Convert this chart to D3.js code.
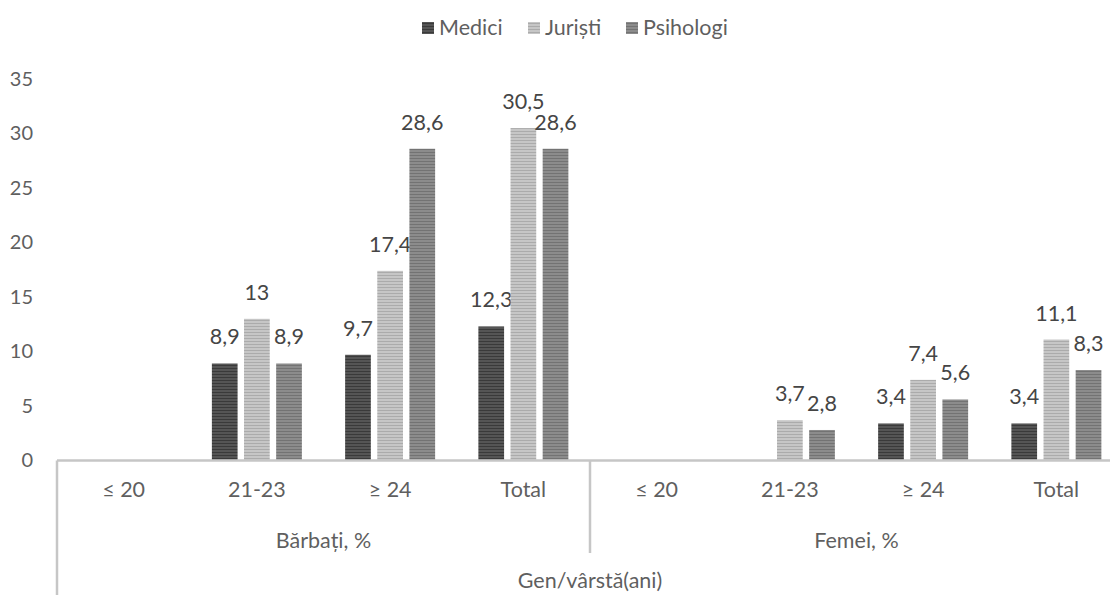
<!DOCTYPE html>
<html>
<head>
<meta charset="utf-8">
<script src="https://cdn.jsdelivr.net/npm/d3@7"></script>
<style>
  body { margin: 0; background: #fff; }
  svg { display: block; font-family: Lato, "Open Sans", sans-serif; }
</style>
</head>
<body>
<svg id="chart" width="1110" height="595"></svg>
<script>
// data
var categories = ["≤ 20", "21-23", "≥ 24", "Total", "≤ 20", "21-23", "≥ 24", "Total"];
var groups = ["Bărbați, %", "Femei, %"];
var seriesNames = ["Medici", "Juriști", "Psihologi"];
var medici = [null, 8.9, 9.7, 12.3, null, null, 3.4, 3.4];
var juristi = [null, 13, 17.4, 30.5, null, 3.7, 7.4, 11.1];
var psihologi = [null, 8.9, 28.6, 28.6, null, 2.8, 5.6, 8.3];
var yTicks = [0, 5, 10, 15, 20, 25, 30, 35];
var axisTitle = "Gen/vârstă(ani)";

var series = [medici, juristi, psihologi];
var fills = ["#555", "#c6c6c6", "#8c8c8c"];
var stripes = ["#3a3a3a", "#ababab", "#737373"];
var textColor = "#5f5f5f";
var lineColor = "#c6c6c6";

var svg = d3.select("#chart");

// striped fills
var defs = svg.append("defs");
fills.forEach(function (f, i) {
  var p = defs.append("pattern")
      .attr("id", "pat" + i)
      .attr("patternUnits", "userSpaceOnUse")
      .attr("width", 8)
      .attr("height", 3);
  p.append("rect").attr("width", 8).attr("height", 3).attr("fill", f);
  p.append("rect").attr("y", 2).attr("width", 8).attr("height", 1).attr("fill", stripes[i]);
});

var idx = d3.range(categories.length);
var x = d3.scaleBand().domain(idx).range([57, 1123]).paddingInner(0).paddingOuter(0);
var xs = d3.scaleBand().domain([0, 1, 2]).range([-45, 45]).paddingInner(0.2);
var y = d3.scaleLinear().domain([0, 35]).range([460.5, 79]);

// y labels
var yAxis = svg.append("g")
    .attr("transform", "translate(42,0)")
    .call(d3.axisLeft(y).tickValues(yTicks).tickSize(0).tickPadding(9));
yAxis.select(".domain").remove();
yAxis.selectAll("text")
    .attr("fill", textColor)
    .style("font-size", "20px")
    .style("font-family", "Lato, sans-serif");

// bars
series.forEach(function (vals, s) {
  var g = svg.append("g");
  var data = idx.filter(function (i) { return vals[i] != null; });
  g.selectAll("rect")
    .data(data)
    .join("rect")
      .attr("x", function (i) { return x(i) + x.bandwidth() / 2 + xs(s); })
      .attr("y", function (i) { return y(vals[i]); })
      .attr("width", xs.bandwidth())
      .attr("height", function (i) { return y(0) - y(vals[i]); })
      .attr("fill", "url(#pat" + s + ")");
  g.selectAll("text")
    .data(data)
    .join("text")
      .attr("x", function (i) { return x(i) + x.bandwidth() / 2 + xs(s) + xs.bandwidth() / 2; })
      .attr("y", function (i) { return y(vals[i]) - 19; })
      .attr("text-anchor", "middle")
      .attr("fill", "#454545")
      .style("font-size", "21.5px")
      .text(function (i) { return String(vals[i]).replace(".", ","); });
});

// category axis (multi level)
var ax = svg.append("g");
ax.append("line")
    .attr("x1", x(0)).attr("x2", x.range()[1])
    .attr("y1", y(0)).attr("y2", y(0))
    .attr("stroke", lineColor).attr("stroke-width", 2.5);
ax.append("line")
    .attr("x1", x(0)).attr("x2", x(0))
    .attr("y1", y(0)).attr("y2", 595)
    .attr("stroke", lineColor).attr("stroke-width", 2.5);
ax.append("line")
    .attr("x1", x(4)).attr("x2", x(4))
    .attr("y1", y(0)).attr("y2", 553)
    .attr("stroke", lineColor).attr("stroke-width", 2.5);

ax.selectAll("text.cat")
  .data(idx)
  .join("text")
    .attr("class", "cat")
    .attr("x", function (i) { return x(i) + x.bandwidth() / 2; })
    .attr("y", 497)
    .attr("text-anchor", "middle")
    .attr("fill", textColor)
    .style("font-size", "21.5px")
    .text(function (i) { return categories[i]; });

ax.selectAll("text.grp")
  .data(groups)
  .join("text")
    .attr("class", "grp")
    .attr("x", function (d, g) { return (x(g * 4) + x(g * 4 + 3) + x.bandwidth()) / 2; })
    .attr("y", 548)
    .attr("text-anchor", "middle")
    .attr("fill", textColor)
    .style("font-size", "21.5px")
    .text(function (d) { return d; });

ax.append("text")
    .attr("x", (x.range()[0] + x.range()[1]) / 2)
    .attr("y", 588)
    .attr("text-anchor", "middle")
    .attr("fill", textColor)
    .style("font-size", "21.5px")
    .text(axisTitle);

// legend
var legend = svg.append("g");
var lx = [422, 528, 626];
seriesNames.forEach(function (n, s) {
  legend.append("rect")
      .attr("x", lx[s]).attr("y", 22)
      .attr("width", 12).attr("height", 12)
      .attr("fill", "url(#pat" + s + ")");
  legend.append("text")
      .attr("x", lx[s] + 17).attr("y", 35)
      .attr("fill", textColor)
      .style("font-size", "21.5px")
      .text(n);
});
</script>
</body>
</html>
